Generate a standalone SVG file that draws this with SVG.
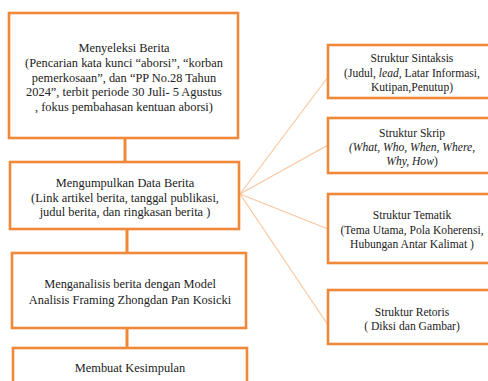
<svg xmlns="http://www.w3.org/2000/svg" width="488" height="381" viewBox="0 0 488 381">
<style>
.box{fill:#fff;stroke:#F0883A;stroke-width:2.6}
.vl{stroke:#F0883A;stroke-width:3;fill:none}
.thin{stroke:#F9C7A0;stroke-width:1.2;fill:none}
.t{fill:#222;text-anchor:middle}
.l{font-size:12.4px}
.r{font-size:11.6px}
</style>
<rect width="488" height="381" fill="#fff"/>
<g id="connectors">
<line class="vl" x1="125" y1="138" x2="125" y2="162"/>
<line class="vl" x1="127" y1="229" x2="127" y2="253"/>
<line class="vl" x1="127" y1="328" x2="127" y2="348"/>
<line class="thin" x1="240" y1="194" x2="328" y2="77"/>
<line class="thin" x1="240" y1="194" x2="328" y2="145"/>
<line class="thin" x1="240" y1="194" x2="328" y2="229"/>
<line class="thin" x1="240" y1="194" x2="328" y2="325"/>
</g>
<g font-family="Liberation Serif, DejaVu Serif, serif">
<g id="n1">
<rect class="box" x="9" y="13" width="229" height="125"/>
<text class="t l"><tspan x="124" y="52">Menyeleksi Berita</tspan><tspan x="124" y="66.8">(Pencarian kata kunci “aborsi”, “korban</tspan><tspan x="124" y="81.6">pemerkosaan”, dan “PP No.28 Tahun</tspan><tspan x="124" y="96.4">2024”, terbit periode 30 Juli- 5 Agustus</tspan><tspan x="124" y="111.2">, fokus pembahasan kentuan aborsi)</tspan></text>
</g>
<g id="n2">
<rect class="box" x="10" y="162" width="229" height="67"/>
<text class="t l"><tspan x="125" y="187">Mengumpulkan Data Berita</tspan><tspan x="125" y="201.5">(Link artikel berita, tanggal publikasi,</tspan><tspan x="125" y="216">judul berita, dan ringkasan berita )</tspan></text>
</g>
<g id="n3">
<rect class="box" x="12" y="253" width="234" height="75"/>
<text class="t l"><tspan x="130" y="287.5">Menganalisis berita dengan Model</tspan><tspan x="130" y="304">Analisis Framing Zhongdan Pan Kosicki</tspan></text>
</g>
<g id="n4">
<rect class="box" x="13" y="348" width="234" height="40"/>
<text class="t l" x="130" y="372">Membuat Kesimpulan</text>
</g>
<g id="s1">
<rect class="box" x="328" y="45" width="170" height="53"/>
<text class="t r"><tspan x="412" y="62">Struktur Sintaksis</tspan><tspan x="412" y="76.5">(Judul, <tspan font-style="italic">lead,</tspan> Latar Informasi,</tspan><tspan x="412" y="91">Kutipan,Penutup)</tspan></text>
</g>
<g id="s2">
<rect class="box" x="328" y="118" width="170" height="55"/>
<text class="t r"><tspan x="412" y="137">Struktur Skrip</tspan><tspan x="412" y="151" font-style="italic">(What, Who, When, Where,</tspan><tspan x="412" y="164.5"><tspan font-style="italic">Why, How</tspan>)</tspan></text>
</g>
<g id="s3">
<rect class="box" x="328" y="194" width="170" height="69"/>
<text class="t r"><tspan x="412" y="219">Struktur Tematik</tspan><tspan x="412" y="233.5">(Tema Utama, Pola Koherensi,</tspan><tspan x="412" y="248">Hubungan Antar Kalimat )</tspan></text>
</g>
<g id="s4">
<rect class="box" x="328" y="290" width="170" height="54"/>
<text class="t r"><tspan x="412" y="315.5">Struktur Retoris</tspan><tspan x="412" y="329.5">( Diksi dan Gambar)</tspan></text>
</g>
</g>
</svg>
